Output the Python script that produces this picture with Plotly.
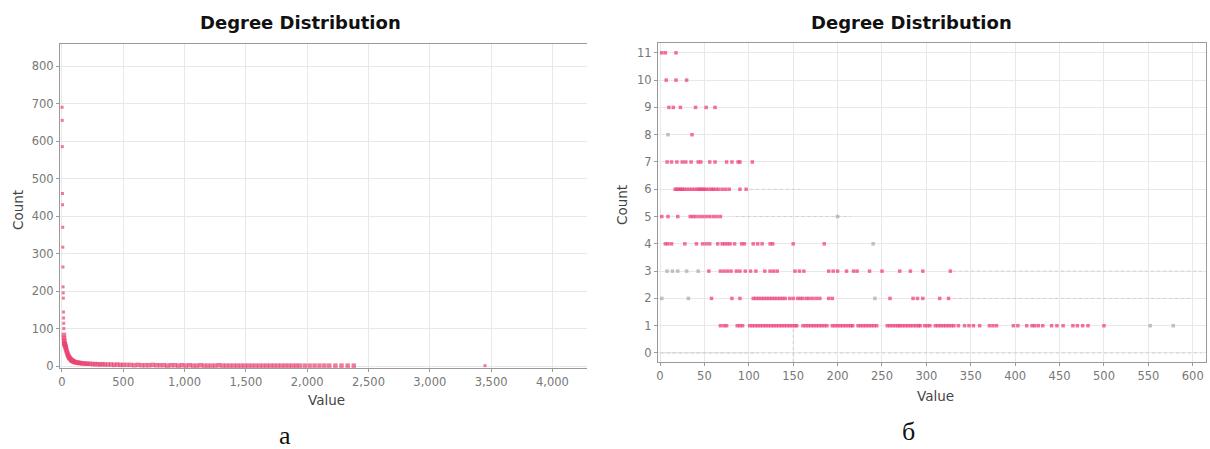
import plotly.graph_objects as go

# ---------------- Panel "а": degree distribution (full range) ----------------
deg_a = [1, 2, 3, 4, 5, 6, 7, 8, 9, 10, 11, 12, 13, 14, 15, 16, 17, 18, 19, 20,
         22, 24, 26, 28, 30, 33, 36, 40, 44, 48, 52, 56, 60, 65, 70, 75, 80, 85,
         90, 95, 100, 110, 120, 130, 140, 150, 165, 180, 195, 210, 230, 250, 270,
         290, 310, 330, 350, 375, 400, 425, 450, 475, 500, 530, 560, 590, 620,
         650, 680, 710, 740, 770, 800, 830, 860, 890, 920, 950, 980, 1010, 1040,
         1070, 1100, 1130, 1160, 1190, 1220, 1250, 1280, 1310, 1340, 1370, 1400,
         1430, 1460, 1490, 1520, 1550, 1580, 1610, 1640, 1670, 1700, 1730, 1760,
         1790, 1820, 1850, 1880, 1910, 1940, 1980, 2020, 2060, 2100, 2140, 2180,
         2230, 2280, 2330, 2380, 3450]
cnt_a = [690, 655, 585, 460, 430, 370, 317, 264, 211, 195, 181, 144, 128, 114,
         100, 83, 75, 69, 63, 60, 58, 57, 55, 52, 50, 46, 42, 38, 34, 30, 27, 24,
         22, 20, 18, 16, 15, 14, 13, 12, 11, 10, 9, 9, 8, 8, 7, 7, 6, 6, 6, 5, 5,
         5, 4, 5, 4, 4, 4, 3, 4, 3, 3, 3, 3, 2, 3, 2, 2, 2, 3, 2, 2, 2, 1, 2, 2,
         1, 2, 1, 2, 1, 1, 2, 1, 1, 1, 1, 2, 1, 1, 1, 1, 1, 1, 1, 1, 1, 1, 1, 1,
         1, 1, 1, 1, 1, 1, 1, 1, 1, 1, 1, 1, 1, 1, 1, 1, 1, 1, 1, 1, 1]
ticks_a_x = [0, 500, 1000, 1500, 2000, 2500, 3000, 3500, 4000]
ticks_a_y = [0, 100, 200, 300, 400, 500, 600, 700, 800]

# ---------------- Panel "б": degree distribution (zoomed) ----------------
b_count11 = [2, 6, 18]
b_count10 = [7, 18, 30]
b_count9 = [10, 15, 23, 40, 52, 62]
b_count8 = [36]
b_count7 = [8, 13, 19, 25, 29, 35, 43, 46, 56, 62, 75, 81, 88, 90, 104]
b_count6 = [17, 19, 21, 23, 25, 27, 30, 33, 36, 39, 42, 44, 46, 48, 50, 52, 55,
            58, 60, 63, 66, 70, 74, 78, 90, 97]
b_count5 = [2, 9, 20, 34, 37, 40, 44, 48, 52, 56, 60, 64, 68]
b_count4 = [6, 9, 13, 28, 41, 48, 52, 56, 65, 70, 73, 76, 79, 84, 92, 95, 105,
            110, 115, 124, 127, 150, 185]
b_count3 = [55, 68, 72, 76, 80, 86, 90, 96, 102, 108, 118, 124, 128, 132, 152,
            157, 162, 190, 195, 200, 210, 218, 222, 236, 250, 270, 282, 296, 327]
b_count2 = [58, 81, 90, 105, 108, 111, 114, 117, 120, 123, 126, 129, 132, 135,
            138, 141, 146, 150, 155, 158, 161, 165, 168, 172, 176, 180, 190, 194,
            259, 285, 290, 296, 315, 325]
b_count1 = [68, 72, 75, 87, 90, 93, 101, 104, 107, 110, 113, 116, 119, 122, 125,
            128, 131, 134, 137, 140, 143, 146, 149, 152, 154, 161, 164, 167, 170,
            173, 176, 179, 182, 185, 188, 194, 197, 200, 203, 206, 209, 212, 215,
            217, 223, 226, 229, 232, 235, 238, 241, 244, 256, 259, 262, 265, 268,
            270, 273, 276, 279, 282, 285, 288, 291, 293, 298, 301, 304, 310, 313,
            316, 319, 322, 325, 328, 331, 336, 343, 348, 353, 360, 371, 375, 379,
            398, 403, 413, 419, 422, 426, 431, 441, 447, 454, 465, 470, 476, 482,
            500]
# faint grey points
b_grey_x = [9, 200, 240, 2, 32, 242, 8, 14, 20, 30, 43, 552, 578]
b_grey_y = [8, 5, 4, 2, 2, 2, 3, 3, 3, 3, 3, 1, 1]
# faint dotted traces
b_dot_x0 = [101, 85, 330, 330, 0, 2]
b_dot_x1 = [158, 215, 610, 600, 610, 109]
b_dot_y = [6, 5, 3, 2, 0, 0]
ticks_b_x = [0, 50, 100, 150, 200, 250, 300, 350, 400, 450, 500, 550, 600]
ticks_b_y = list(range(0, 12))

rows_b = {11: b_count11, 10: b_count10, 9: b_count9, 8: b_count8, 7: b_count7,
          6: b_count6, 5: b_count5, 4: b_count4, 3: b_count3, 2: b_count2,
          1: b_count1}
xb, yb = [], []
for c, vals in rows_b.items():
    xb += vals
    yb += [c] * len(vals)

PINK = "#e8436f"
TICKFONT = dict(family="DejaVu Sans", size=11.5, color="#777777")
GRID = "#e8e8e8"
LINE = "#9a9a9a"

fig = go.Figure()

# panel a: single isolated high points drawn smaller than the dense curve
size_a = [3 if c > 90 or d > 3000 else 4.5 for d, c in zip(deg_a, cnt_a)]
fig.add_trace(go.Scatter(x=deg_a, y=cnt_a, mode="markers", xaxis="x", yaxis="y",
                         marker=dict(symbol="square", size=size_a, color=PINK, opacity=0.7,
                                     line=dict(width=0)),
                         showlegend=False, hoverinfo="x+y"))

# panel b dotted helpers
for x0, x1, yy in zip(b_dot_x0, b_dot_x1, b_dot_y):
    fig.add_trace(go.Scatter(x=[x0, x1], y=[yy, yy], mode="lines", xaxis="x2", yaxis="y2",
                             line=dict(color="#d9cdd1", width=1, dash="dot"),
                             showlegend=False, hoverinfo="skip"))
fig.add_trace(go.Scatter(x=[150, 150], y=[-0.33, 1], mode="lines", xaxis="x2", yaxis="y2",
                         line=dict(color="#cfcfcf", width=1, dash="dot"),
                         showlegend=False, hoverinfo="skip"))
fig.add_trace(go.Scatter(x=b_grey_x, y=b_grey_y, mode="markers", xaxis="x2", yaxis="y2",
                         marker=dict(symbol="square", size=3.5, color="#b0b0b0", opacity=0.8),
                         showlegend=False, hoverinfo="x+y"))
fig.add_trace(go.Scatter(x=xb, y=yb, mode="markers", xaxis="x2", yaxis="y2",
                         marker=dict(symbol="square", size=3.5, color="#f0427a", opacity=0.75,
                                     line=dict(width=0)),
                         showlegend=False, hoverinfo="x+y"))

W, H = 1210, 449

def fx(px):
    return px / W

def fy(py):
    return 1 - py / H

common = dict(tickfont=TICKFONT, showgrid=True, gridcolor=GRID, gridwidth=1,
              zeroline=False, showline=True, linecolor=LINE,
              ticks="outside", ticklen=3, tickcolor=LINE, automargin=False)

fig.update_layout(
    width=W, height=H, margin=dict(l=0, r=0, t=0, b=0),
    paper_bgcolor="white", plot_bgcolor="white",
    xaxis=dict(domain=[fx(60), fx(587)], range=[-16, 4282], anchor="y",
               tickvals=ticks_a_x, tickformat=",", mirror=True, **common),
    yaxis=dict(domain=[fy(368), fy(44)], range=[-5.3, 858.7], anchor="x",
               tickvals=ticks_a_y, **common),
    xaxis2=dict(domain=[fx(658), fx(1206)], range=[-2.25, 614.9], anchor="y2",
                tickvals=ticks_b_x, mirror=True, **common),
    yaxis2=dict(domain=[fy(362), fy(43)], range=[-0.33, 11.36], anchor="x2",
                tickvals=ticks_b_y, mirror=True, **common),
)

TITLEFONT = dict(family="DejaVu Sans", size=18, color="#111111")
AXT = dict(family="DejaVu Sans", size=13.5, color="#444444")
CAP = dict(family="Liberation Serif", size=26, color="#111111")
ann = [
    dict(text="<b>Degree Distribution</b>", x=fx(300), y=fy(22), font=TITLEFONT),
    dict(text="<b>Degree Distribution</b>", x=fx(911), y=fy(22), font=TITLEFONT),
    dict(text="Value", x=fx(326), y=fy(400), font=AXT),
    dict(text="Value", x=fx(935), y=fy(396), font=AXT),
    dict(text="Count", x=fx(18), y=fy(210), font=AXT, textangle=-90),
    dict(text="Count", x=fx(622), y=fy(205), font=AXT, textangle=-90),
    dict(text="а", x=fx(285), y=fy(435), font=CAP),
    dict(text="б", x=fx(908), y=fy(431), font=CAP),
]
for a in ann:
    a.update(xref="paper", yref="paper", showarrow=False, xanchor="center", yanchor="middle")
fig.update_layout(annotations=ann)

# remove the browser's default 8 px body margin so the figure fills the window exactly
fig.write_html("out.html", config={"displayModeBar": False},
               post_script="document.body.style.margin='0px';document.body.style.overflow='hidden';")
